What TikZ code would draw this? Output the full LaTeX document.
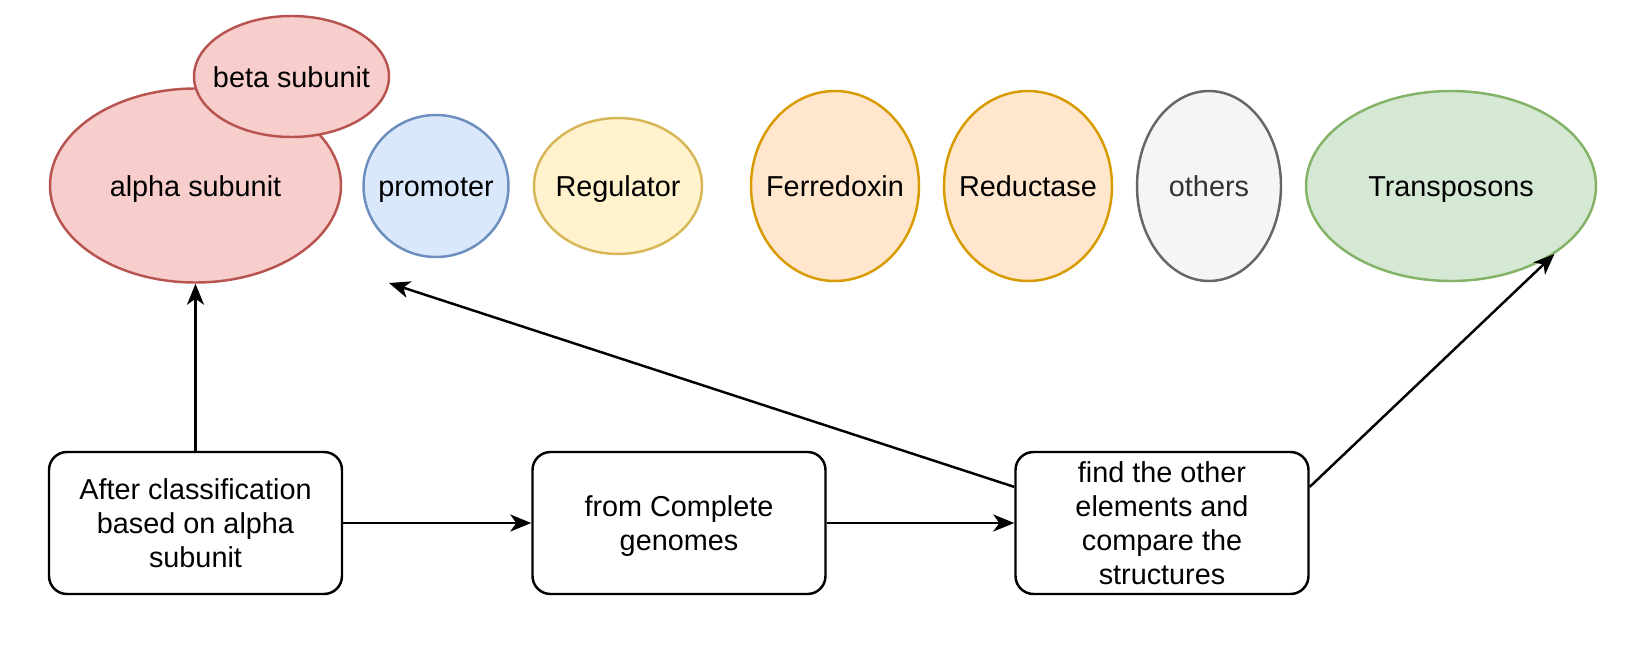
\documentclass[tikz,border=0pt]{standalone}
\usepackage{fontspec}
\setmainfont{Liberation Sans}
\usetikzlibrary{arrows.meta,calc,shapes.geometric}

\definecolor{redfill}{HTML}{F8CECC}
\definecolor{redline}{HTML}{B85450}
\definecolor{bluefill}{HTML}{DAE8FC}
\definecolor{blueline}{HTML}{6C8EBF}
\definecolor{yellowfill}{HTML}{FFF2CC}
\definecolor{yellowline}{HTML}{D6B656}
\definecolor{orangefill}{HTML}{FFE6CC}
\definecolor{orangeline}{HTML}{D79B00}
\definecolor{greyfill}{HTML}{F5F5F5}
\definecolor{greyline}{HTML}{666666}
\definecolor{greytext}{HTML}{333333}
\definecolor{greenfill}{HTML}{D5E8D4}
\definecolor{greenline}{HTML}{82B366}

%% text of an ellipse must not widen it
\newcommand{\blobtext}[1]{\makebox[0pt]{#1}}

\tikzset{
  blob/.style={ellipse, draw, line width=0.7pt, inner sep=0pt,
    text height=6pt, text depth=0pt},
  stepbox/.style={rectangle, draw, rounded corners=0.18cm, line width=0.7pt,
    minimum width=2.93cm, minimum height=1.42cm, inner ysep=0pt, align=center,
    text depth=0pt, execute at begin node={\rule{0pt}{7.9pt}}},
  arr/.style={-{Stealth[length=0.21cm,width=0.17cm,inset=0.06cm]}, line width=0.7pt}
}

\begin{document}
\begin{tikzpicture}[font=\fontsize{8.2}{9.6}\selectfont]

\useasboundingbox (0,0) rectangle (16.48,6.46);

%% ellipses
\node[blob, draw=redline, fill=redfill, minimum width=2.91cm, minimum height=1.94cm]
  (alpha) at (1.955,4.605) {\blobtext{alpha subunit}};
\node[blob, draw=redline, fill=redfill, minimum width=1.95cm, minimum height=1.21cm]
  (beta) at (2.915,5.695) {\blobtext{beta subunit}};
\node[blob, draw=blueline, fill=bluefill, minimum width=1.45cm, minimum height=1.42cm]
  (prom) at (4.36,4.60) {\blobtext{promoter}};
\node[blob, draw=yellowline, fill=yellowfill, minimum width=1.68cm, minimum height=1.36cm]
  (reg) at (6.18,4.60) {\blobtext{Regulator}};
\node[blob, draw=orangeline, fill=orangefill, minimum width=1.68cm, minimum height=1.90cm]
  (ferr) at (8.35,4.60) {\blobtext{Ferredoxin}};
\node[blob, draw=orangeline, fill=orangefill, minimum width=1.68cm, minimum height=1.90cm]
  (red) at (10.28,4.60) {\blobtext{Reductase}};
\node[blob, draw=greyline, fill=greyfill, text=greytext, minimum width=1.44cm, minimum height=1.90cm]
  (others) at (12.09,4.60) {\blobtext{others}};
\node[blob, draw=greenline, fill=greenfill, minimum width=2.90cm, minimum height=1.90cm]
  (trans) at (14.51,4.60) {\blobtext{Transposons}};

%% boxes
\node[stepbox] (classify) at (1.955,1.23) {After classification\\based on alpha\\subunit};
\node[stepbox] (genomes) at (6.79,1.23) {from Complete\\genomes};
\node[stepbox] (find) at (11.62,1.23) {find the other\\elements and\\compare the\\structures};

%% free end of the long arrow
\coordinate (promtip) at (3.89,3.63);

%% arrows
\draw[arr] (classify) -- (alpha);
\draw[arr] (classify) -- (genomes);
\draw[arr] (genomes) -- (find);
\draw[arr] ($(find.north west)!0.25!(find.south west)$) -- (promtip);
\draw[arr] ($(find.north east)!0.25!(find.south east)$) -- (trans.south east);

\end{tikzpicture}
\end{document}
